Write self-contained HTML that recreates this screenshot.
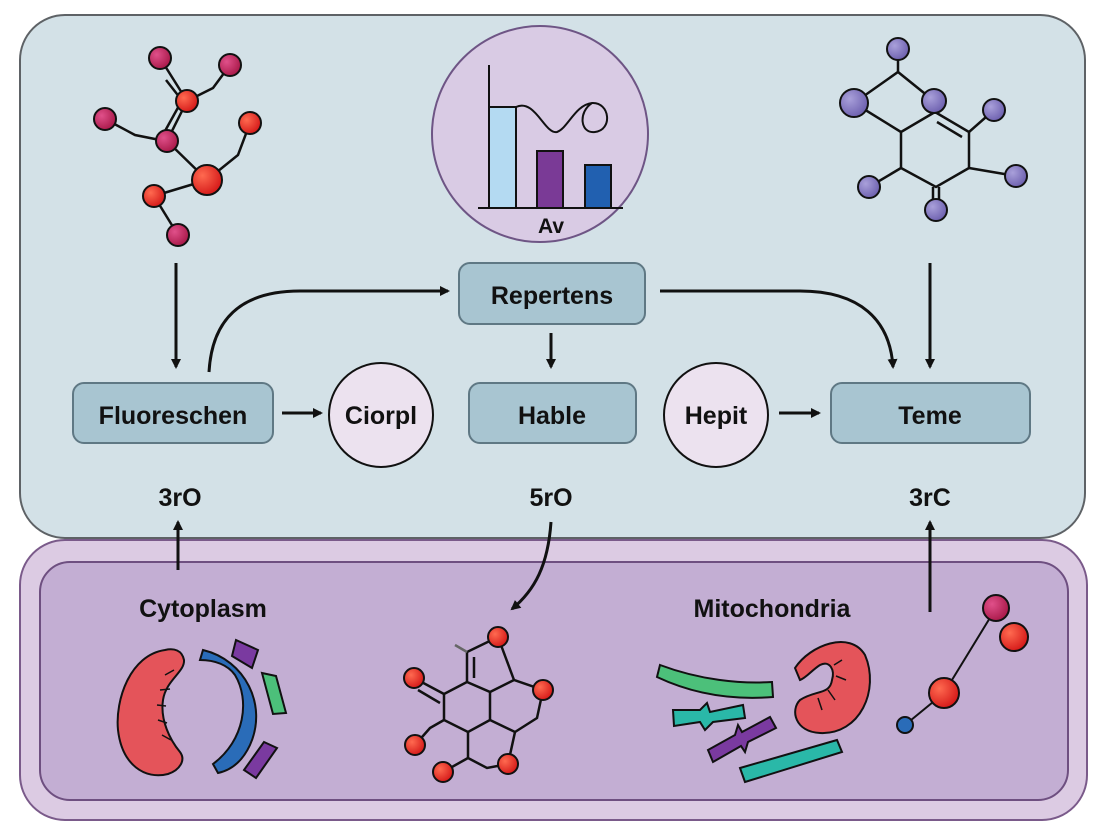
<!DOCTYPE html>
<html><head><meta charset="utf-8"><style>
html,body{margin:0;padding:0;background:#fff;}
svg{display:block;font-family:"Liberation Sans",sans-serif;}
</style></head><body>
<svg width="1104" height="832" viewBox="0 0 1104 832" xmlns="http://www.w3.org/2000/svg">
<defs>
<radialGradient id="red" cx="0.35" cy="0.35" r="0.7"><stop offset="0" stop-color="#ff6a50"/><stop offset="1" stop-color="#d41818"/></radialGradient>
<radialGradient id="pink" cx="0.35" cy="0.35" r="0.7"><stop offset="0" stop-color="#e0508a"/><stop offset="1" stop-color="#a81848"/></radialGradient>
<radialGradient id="purp" cx="0.35" cy="0.35" r="0.7"><stop offset="0" stop-color="#a9a0da"/><stop offset="1" stop-color="#6c5fae"/></radialGradient>
<marker id="ah" markerWidth="10" markerHeight="10" refX="8" refY="5" orient="auto" markerUnits="userSpaceOnUse"><path d="M0,0 L10,5 L0,10 z" fill="#111"/></marker>
</defs>
<rect x="20" y="15" width="1065" height="523" rx="45" fill="#d3e1e7" stroke="#5e6266" stroke-width="2"/>
<rect x="20" y="540" width="1067" height="280" rx="45" fill="#dccbe3" stroke="#7a5a8a" stroke-width="2"/>
<rect x="40" y="562" width="1028" height="238" rx="30" fill="#c3aed3" stroke="#6e4f80" stroke-width="2"/>

<g stroke="#111" stroke-width="2.5" fill="none">
<line x1="160" y1="58" x2="187" y2="101"/><line x1="166" y1="80" x2="184" y2="103"/>
<path d="M230,65 L213,88 L187,101"/>
<line x1="187" y1="101" x2="167" y2="141"/><line x1="180" y1="104" x2="160" y2="140"/>
<path d="M105,119 L135,135 L160,140"/>
<line x1="167" y1="141" x2="207" y2="180"/>
<path d="M250,123 L238,155 L207,180"/>
<line x1="207" y1="180" x2="154" y2="196"/>
<line x1="154" y1="196" x2="178" y2="235"/>
</g>
<g stroke="#111" stroke-width="2">
<circle cx="160" cy="58" r="11" fill="url(#pink)"/><circle cx="230" cy="65" r="11" fill="url(#pink)"/>
<circle cx="187" cy="101" r="11" fill="url(#red)"/><circle cx="105" cy="119" r="11" fill="url(#pink)"/>
<circle cx="167" cy="141" r="11" fill="url(#pink)"/><circle cx="250" cy="123" r="11" fill="url(#red)"/>
<circle cx="207" cy="180" r="15" fill="url(#red)"/><circle cx="154" cy="196" r="11" fill="url(#red)"/>
<circle cx="178" cy="235" r="11" fill="url(#pink)"/>
</g>

<g stroke="#111" stroke-width="2.5" fill="none">
<line x1="898" y1="49" x2="898" y2="72"/><path d="M854,103 L898,72 L934,101"/>
<line x1="854" y1="103" x2="901" y2="132"/>
<path d="M901,132 L935,112 L969,132 L969,168 L936,187 L901,168 Z"/>
<line x1="937" y1="122" x2="962" y2="137"/>
<line x1="969" y1="132" x2="994" y2="110"/><line x1="969" y1="168" x2="1016" y2="176"/>
<line x1="901" y1="168" x2="869" y2="187"/><line x1="933" y1="187" x2="933" y2="205"/><line x1="939" y1="187" x2="939" y2="205"/>
</g>
<g stroke="#111" stroke-width="2" fill="url(#purp)">
<circle cx="898" cy="49" r="11"/><circle cx="854" cy="103" r="14"/><circle cx="934" cy="101" r="12"/>
<circle cx="994" cy="110" r="11"/><circle cx="1016" cy="176" r="11"/><circle cx="869" cy="187" r="11"/><circle cx="936" cy="210" r="11"/>
</g>

<circle cx="540" cy="134" r="108" fill="#d9cbe4" stroke="#6e5585" stroke-width="2"/>
<line x1="489" y1="65" x2="489" y2="208" stroke="#111" stroke-width="2"/>
<rect x="489" y="107" width="27" height="101" fill="#b4daf2" stroke="#111" stroke-width="2"/>
<rect x="537" y="151" width="26" height="57" fill="#7a3a96" stroke="#111" stroke-width="2"/>
<rect x="585" y="165" width="26" height="43" fill="#2160b0" stroke="#111" stroke-width="2"/>
<line x1="478" y1="208" x2="623" y2="208" stroke="#111" stroke-width="2"/>
<path d="M516,107 C535,98 545,135 557,132 C568,128 575,105 592,103 C610,102 613,130 595,132 C580,134 578,112 592,103" fill="none" stroke="#111" stroke-width="2"/>
<text x="551" y="233" font-size="21" font-weight="bold" text-anchor="middle" fill="#111">Av</text>

<g stroke="#5f7884" stroke-width="2" fill="#a8c5d1">
<rect x="459" y="263" width="186" height="61" rx="11"/>
<rect x="73" y="383" width="200" height="60" rx="11"/>
<rect x="469" y="383" width="167" height="60" rx="11"/>
<rect x="831" y="383" width="199" height="60" rx="11"/>
</g>
<g stroke="#111" stroke-width="2" fill="#ece2ef">
<circle cx="381" cy="415" r="52"/><circle cx="716" cy="415" r="52"/>
</g>
<g font-size="25" font-weight="bold" fill="#111" text-anchor="middle">
<text x="552" y="304">Repertens</text>
<text x="173" y="424">Fluoreschen</text>
<text x="381" y="424">Ciorpl</text>
<text x="552" y="424">Hable</text>
<text x="716" y="424">Hepit</text>
<text x="930" y="424">Teme</text>
<text x="180" y="506">3rO</text>
<text x="551" y="506">5rO</text>
<text x="930" y="506">3rC</text>
<text x="203" y="617">Cytoplasm</text>
<text x="772" y="617">Mitochondria</text>
</g>

<g stroke="#111" stroke-width="3" fill="none" marker-end="url(#ah)">
<line x1="176" y1="263" x2="176" y2="367"/>
<path d="M209,372 C212,320 240,291 300,291 L448,291"/>
<path d="M660,291 L800,291 C860,291 890,320 893,367"/>
<line x1="930" y1="263" x2="930" y2="367"/>
<line x1="551" y1="333" x2="551" y2="367"/>
<line x1="282" y1="413" x2="321" y2="413"/>
<line x1="779" y1="413" x2="819" y2="413"/>
<line x1="178" y1="570" x2="178" y2="522"/>
<path d="M551,522 C548,565 535,590 512,609"/>
<line x1="930" y1="612" x2="930" y2="522"/>
</g>

<!-- cytoplasm kidney -->
<path d="M165,650 C130,655 115,700 118,730 C122,765 145,780 168,774 C180,770 186,760 180,752 C170,740 160,720 163,700 C166,680 185,672 184,660 C182,650 174,648 165,650 Z" fill="#e4545a" stroke="#111" stroke-width="2"/>
<g stroke="#111" stroke-width="1.5"><line x1="165" y1="675" x2="174" y2="670"/><line x1="160" y1="690" x2="170" y2="689"/><line x1="157" y1="705" x2="166" y2="706"/><line x1="158" y1="720" x2="167" y2="723"/><line x1="162" y1="735" x2="171" y2="740"/></g>
<path d="M203,650 C245,660 268,705 250,745 C243,760 232,770 218,773 L213,764 C245,740 250,700 235,675 C228,665 215,660 200,660 Z" fill="#2a6cb8" stroke="#111" stroke-width="2"/>
<path d="M236,640 L258,650 L252,668 L232,656 Z" fill="#7a3aa0" stroke="#111" stroke-width="2"/>
<path d="M262,673 L276,676 L286,713 L273,714 Z" fill="#4cc07a" stroke="#111" stroke-width="2"/>
<path d="M264,742 L277,748 L256,778 L244,770 Z" fill="#7a3aa0" stroke="#111" stroke-width="2"/>

<g stroke="#111" stroke-width="2.5" fill="none">
<path d="M498,637 L467,652 L467,682 L444,694 L444,720 L468,732 L490,720 L490,692 L467,682"/>
<line x1="474" y1="657" x2="474" y2="678"/>
<path d="M490,692 L514,680 L543,690 L537,718 L515,732 L490,720"/>
<line x1="498" y1="637" x2="514" y2="680"/>
<path d="M468,732 L468,758 L487,768 L508,764 L515,732"/>
<line x1="468" y1="758" x2="443" y2="772"/>
<path d="M444,720 L430,728 L415,745"/>
<line x1="444" y1="694" x2="414" y2="678"/><line x1="440" y1="703" x2="418" y2="690"/>
<line x1="455" y1="645" x2="467" y2="652" stroke="#666"/>
</g>
<g stroke="#111" stroke-width="2" fill="url(#red)">
<circle cx="498" cy="637" r="10"/><circle cx="414" cy="678" r="10"/><circle cx="543" cy="690" r="10"/>
<circle cx="415" cy="745" r="10"/><circle cx="443" cy="772" r="10"/><circle cx="508" cy="764" r="10"/>
</g>

<path d="M660,665 C700,680 740,684 772,682 L773,697 C735,700 695,695 657,677 Z" fill="#4cc07a" stroke="#111" stroke-width="2"/>
<path d="M673,710 L700,710 L707,703 L710,712 L743,705 L745,718 L713,722 L705,730 L700,722 L674,726 Z" fill="#2ab8a8" stroke="#111" stroke-width="2"/>
<path d="M708,750 L735,735 L738,725 L742,732 L770,717 L776,728 L748,742 L745,752 L741,746 L713,762 Z" fill="#7a3aa0" stroke="#111" stroke-width="2"/>
<path d="M740,768 L837,740 L842,752 L745,782 Z" fill="#2ab8a8" stroke="#111" stroke-width="2"/>
<path d="M795,668 C810,645 850,630 865,655 C880,690 860,735 820,733 C795,732 790,710 800,700 C815,690 830,695 832,680 C835,670 830,660 820,665 C812,670 806,678 800,680 Z" fill="#e4545a" stroke="#111" stroke-width="2"/>
<g stroke="#111" stroke-width="1.5"><line x1="828" y1="690" x2="835" y2="700"/><line x1="818" y1="698" x2="822" y2="710"/><line x1="836" y1="676" x2="846" y2="680"/><line x1="834" y1="665" x2="842" y2="660"/></g>

<g stroke="#111" stroke-width="2"><line x1="996" y1="608" x2="944" y2="693"/><line x1="944" y1="693" x2="905" y2="725"/></g>
<g stroke="#111" stroke-width="2">
<circle cx="1014" cy="637" r="14" fill="url(#red)"/><circle cx="996" cy="608" r="13" fill="url(#pink)"/>
<circle cx="944" cy="693" r="15" fill="url(#red)"/><circle cx="905" cy="725" r="8" fill="#2a6cb8"/>
</g>
</svg>
</body></html>
